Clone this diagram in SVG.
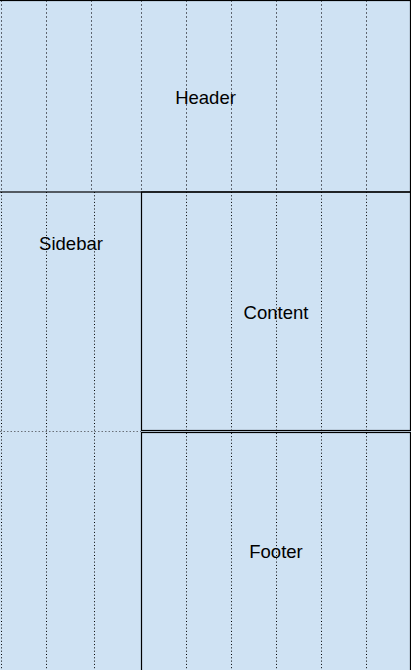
<svg xmlns="http://www.w3.org/2000/svg" width="411" height="670" viewBox="0 0 411 670">
  <style>
    .bg { fill: #cfe2f3; }
    .box { fill: none; stroke: #000000; stroke-width: 1.2; }
    .gdash { stroke: #5f6670; stroke-width: 1; stroke-dasharray: 2 2; }
    .gdot { stroke: #000000; stroke-width: 1; stroke-dasharray: 1 2.3; }
    .hdot { stroke: #6a7078; stroke-width: 1; stroke-dasharray: 1.5 2; }
    .lbl { font-family: "Liberation Sans", Arial, sans-serif; font-size: 18.5px; fill: #000000; text-anchor: middle; }
  </style>
  <rect class="bg" x="0" y="0" width="411" height="670"/>
  <g id="grid">
    <g class="gdash">
      <line x1="1.5" y1="0" x2="1.5" y2="192"/>
      <line x1="46.5" y1="0" x2="46.5" y2="192"/>
      <line x1="91.5" y1="0" x2="91.5" y2="192"/>
      <line x1="141.5" y1="0" x2="141.5" y2="192"/>
      <line x1="186.5" y1="0" x2="186.5" y2="192"/>
      <line x1="231.5" y1="0" x2="231.5" y2="192"/>
      <line x1="276.5" y1="0" x2="276.5" y2="192"/>
      <line x1="321.5" y1="0" x2="321.5" y2="192"/>
      <line x1="366.5" y1="0" x2="366.5" y2="192"/>
    </g>
    <g class="gdot">
      <line x1="1.5" y1="192" x2="1.5" y2="670"/>
      <line x1="46.5" y1="192" x2="46.5" y2="670"/>
      <line x1="94.5" y1="192" x2="94.5" y2="670"/>
      <line x1="186.5" y1="192" x2="186.5" y2="670"/>
      <line x1="231.5" y1="192" x2="231.5" y2="670"/>
      <line x1="276.5" y1="192" x2="276.5" y2="670"/>
      <line x1="321.5" y1="192" x2="321.5" y2="670"/>
      <line x1="366.5" y1="192" x2="366.5" y2="670"/>
    </g>
    <line class="hdot" x1="0" y1="431.5" x2="141" y2="431.5"/>
  </g>
  <g id="header">
    <rect class="box" x="-2" y="0.5" width="412.5" height="191.5"/>
    <text class="lbl" x="205.5" y="103.5">Header</text>
  </g>
  <g id="sidebar">
    <text class="lbl" x="71" y="249.5">Sidebar</text>
  </g>
  <g id="content">
    <rect class="box" x="141.5" y="192" width="269" height="238.5"/>
    <text class="lbl" x="276" y="318.5">Content</text>
  </g>
  <g id="footer">
    <rect class="box" x="141.5" y="432.5" width="269" height="240"/>
    <text class="lbl" x="276" y="558">Footer</text>
  </g>
  <g id="connectors"/>
</svg>
